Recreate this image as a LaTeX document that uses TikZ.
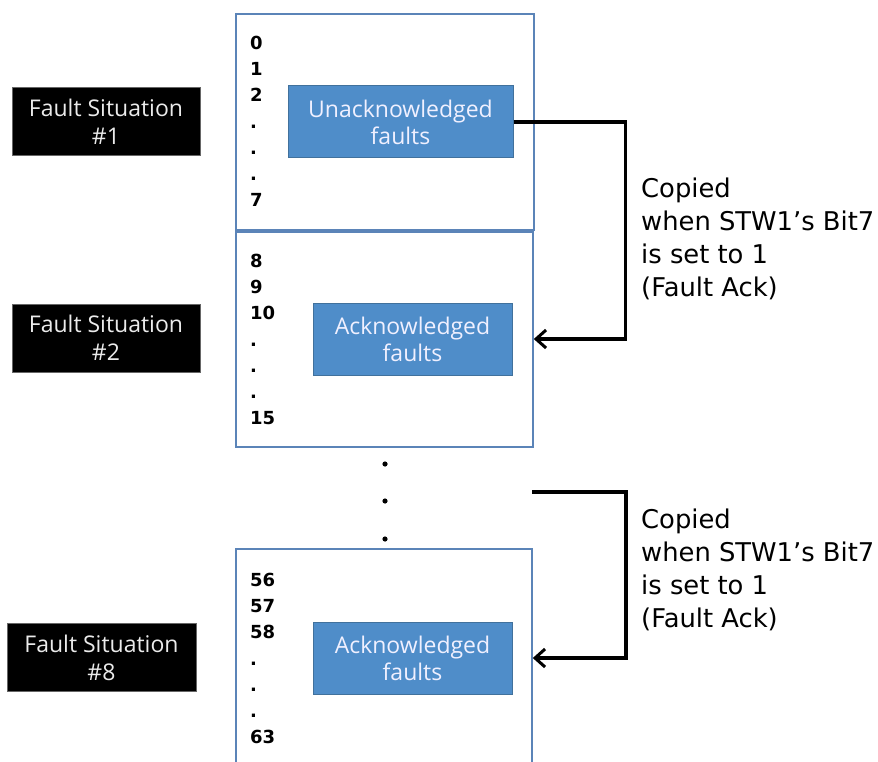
\documentclass[tikz,border=0pt]{standalone}
\usepackage{fontspec}
\setmainfont{Open Sans}
\newfontfamily\notefont{DejaVu Sans}
\usepackage{tikz}
\usetikzlibrary{calc,arrows.meta}
\definecolor{faultblue}{HTML}{4F8DC9}
\definecolor{faultedge}{HTML}{41719C}
\definecolor{memedge}{HTML}{5B84B8}

\begin{document}
\begin{tikzpicture}[x=1pt,y=-1pt,
  situation/.style={fill=black,draw=black!60,text=white!92!black,align=center,inner sep=0,minimum width=188,minimum height=68,font=\fontsize{23}{28}\selectfont},
  memblock/.style={draw=memedge,line width=1.6pt,inner sep=0},
  faultbox/.style={fill=faultblue,draw=faultedge,line width=1pt,text=white!94!blue,align=center,inner sep=0,minimum height=72,font=\fontsize{23}{27}\selectfont},
  idx/.style={anchor=base west,inner sep=0,font=\notefont\bfseries\fontsize{18}{20}\selectfont},
  copyarrow/.style={-{Straight Barb[length=10pt,width=18pt,line width=3pt]},line width=3.2pt,black},
  copynote/.style={anchor=west,align=left,inner sep=0,font=\notefont\fontsize{25.8}{33}\selectfont}]
\clip (0,0) rectangle (878,762);
% memory blocks
\node[memblock,minimum width=298,minimum height=216] (mem1) at (385,122) {};
\node[memblock,minimum width=297,minimum height=215] (mem2) at (384.5,339.5) {};
\node[memblock,minimum width=296,minimum height=250] (mem3) at (384,674) {};
% fault situation labels
\node[situation] (sit1) at (106,121.5) {Fault Situation\\\#1};
\node[situation] (sit2) at (106,338) {Fault Situation\\\#2};
\node[situation,minimum width=189] (sit8) at (101.5,657.5) {Fault Situation\\\#8};
% fault boxes
\node[faultbox,minimum width=225] (unack) at (400.5,122) {Unacknowledged\\faults};
\node[faultbox,minimum width=199] (ack1) at (412.5,339) {Acknowledged\\faults};
\node[faultbox,minimum width=199] (ack8) at (412.5,658) {Acknowledged\\faults};
% fault numbers
\foreach \yy/\a/\b/\c/\d in {49.5/0/1/2/7,267.5/8/9/10/15,586.5/56/57/58/63}{
  \foreach \lab [count=\k from 0] in {\a,\b,\c,.,.,.,\d}{
    \node[idx] (idx-\a-\k) at (250,{\yy+26.2*\k}) {\lab};}}
% skipped blocks
\foreach \yy in {464,501,539}{\fill (385,\yy) circle (2.6);}
% copy arrows
\coordinate (from8) at (532,492);
\draw[copyarrow] (unack.east) -- ++(112,0) |- (ack1.east -| mem2.east);
\draw[copyarrow] (from8) -- ++(94,0) |- (ack8.east -| mem3.east);
\node[copynote] (note1) at (641,239) {Copied\\when STW1’s Bit7\\is set to 1\\(Fault Ack)};
\node[copynote] (note8) at (641,569.5) {Copied\\when STW1’s Bit7\\is set to 1\\(Fault Ack)};
\end{tikzpicture}
\end{document}
